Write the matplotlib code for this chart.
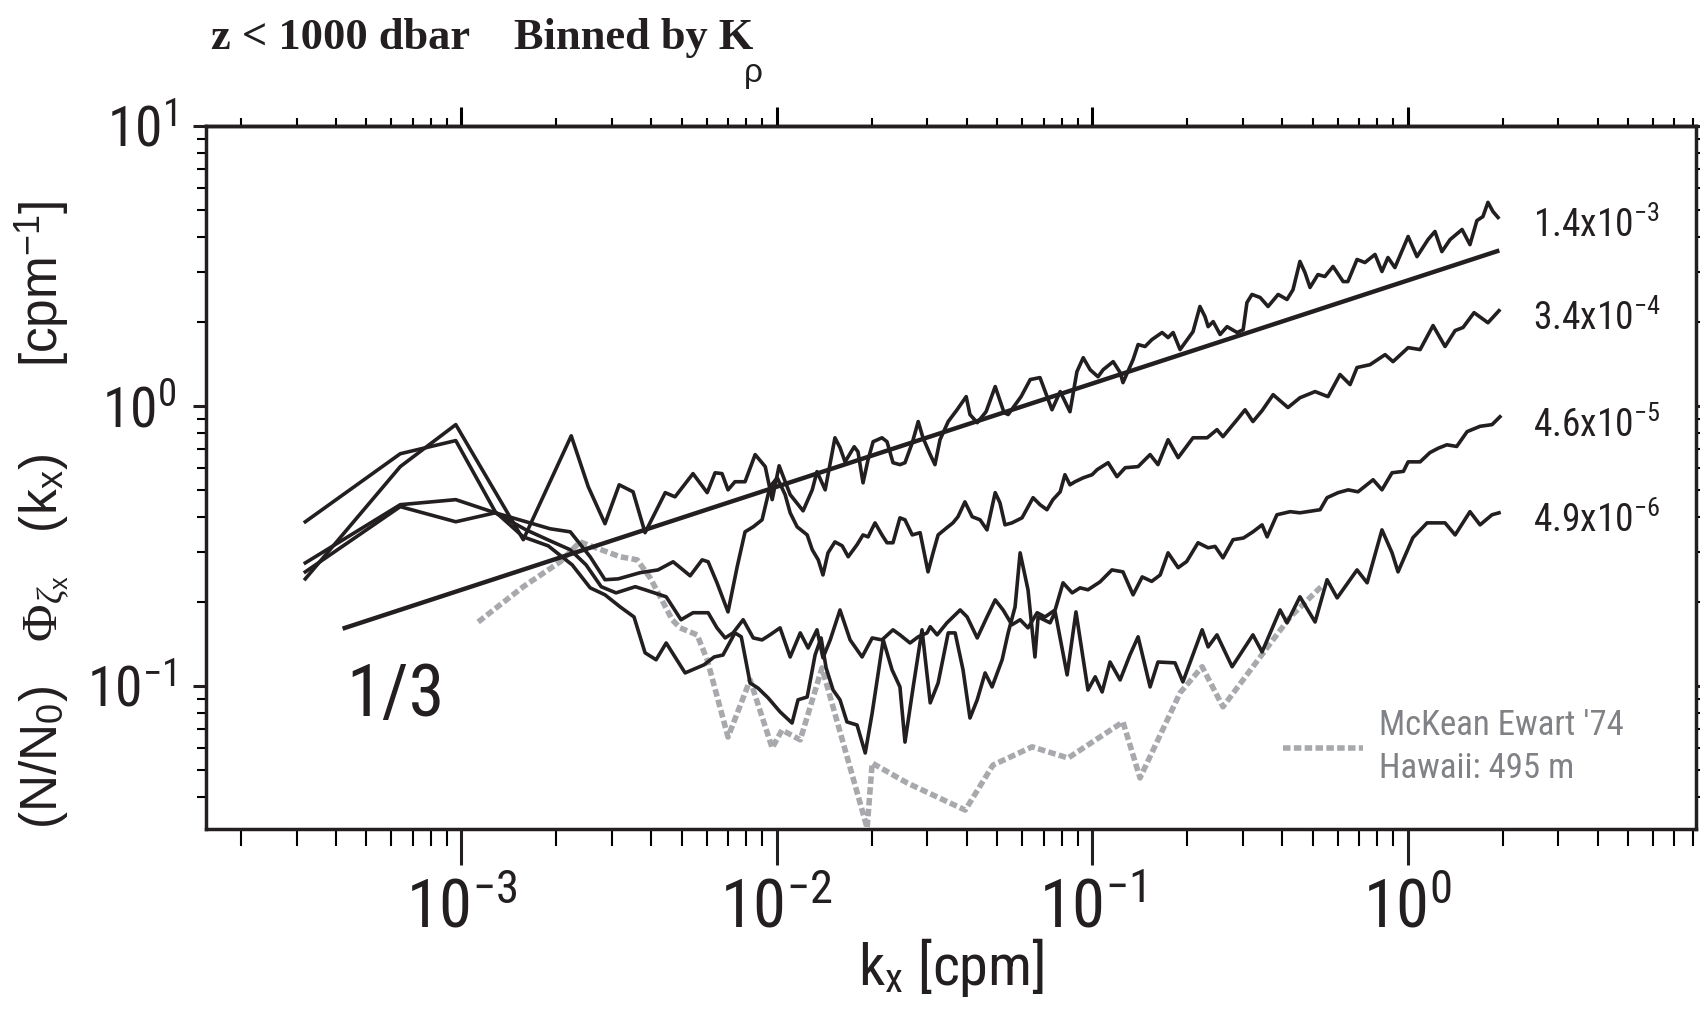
import numpy as np
import matplotlib
matplotlib.use("Agg")
import matplotlib.pyplot as plt
from matplotlib import font_manager
from matplotlib.font_manager import FontProperties
from matplotlib.ticker import NullFormatter


def pick_narrow():
    # a condensed sans close to the compressed Helvetica of the original
    entries = [e for e in font_manager.fontManager.ttflist
               if e.style == "normal" and str(e.weight) in ("400", "normal", "regular")]
    prefs = ["Liberation Sans Narrow", "Arial Narrow", "Roboto Condensed",
             "Open Sans Condensed", "Noto Sans", "Open Sans", "DejaVu Sans"]
    for p in prefs:
        for e in entries:
            if e.name == p and ("condensed" in e.stretch or "Narrow" in e.name):
                return e
    for e in entries:
        if "condensed" in e.stretch and "Mono" not in e.name and "Serif" not in e.name:
            return e
    return None


narrow_entry = pick_narrow()
if narrow_entry is not None:
    NARROW_FP = dict(fname=narrow_entry.fname)
    plt.rcParams["font.family"] = narrow_entry.name
    plt.rcParams["font.stretch"] = narrow_entry.stretch
else:
    NARROW_FP = dict(family="Liberation Sans")
    plt.rcParams["font.family"] = "Liberation Sans"

SANS = "Liberation Sans"
SERIF = "Liberation Serif"
plt.rcParams["mathtext.fontset"] = "custom"
plt.rcParams["mathtext.rm"] = SERIF
plt.rcParams["mathtext.it"] = SERIF + ":italic"
plt.rcParams["mathtext.bf"] = SERIF + ":bold"
plt.rcParams["axes.unicode_minus"] = False


def narrow(size):
    return FontProperties(size=size, **NARROW_FP)


INK = "#231f20"
GRAY = "#a7a9ac"
GRAY_TEXT = "#808285"

# spectra (log10 k [cpm], log10 of (N/N0) Phi)
logk_a = [-3.495, -3.194, -3.018, -2.804, -2.652, -2.598, -2.545, -2.500, -2.456, -2.418,
          -2.354, -2.323, -2.266, -2.221, -2.196, -2.174, -2.155, -2.133, -2.101, -2.069,
          -2.037, -2.015, -1.993, -1.958, -1.917, -1.888, -1.873, -1.847, -1.816, -1.800,
          -1.784, -1.755, -1.743, -1.727, -1.711, -1.695, -1.667, -1.651, -1.632, -1.610,
          -1.594, -1.571, -1.552, -1.537, -1.514, -1.499, -1.483, -1.457, -1.429, -1.400,
          -1.388, -1.365, -1.337, -1.308, -1.280, -1.267, -1.226, -1.197, -1.166, -1.128,
          -1.102, -1.071, -1.049, -1.029, -1.007, -0.982, -0.966, -0.934, -0.912, -0.903,
          -0.871, -0.855, -0.833, -0.811, -0.779, -0.760, -0.744, -0.722, -0.706, -0.681,
          -0.659, -0.643, -0.633, -0.617, -0.595, -0.573, -0.541, -0.522, -0.510, -0.494,
          -0.468, -0.443, -0.411, -0.383, -0.364, -0.342, -0.326, -0.310, -0.285, -0.263,
          -0.237, -0.205, -0.190, -0.161, -0.136, -0.104, -0.082, -0.063, -0.041, 0.001,
          0.029, 0.064, 0.086, 0.108, 0.134, 0.172, 0.197, 0.219, 0.238, 0.254,
          0.270, 0.286]
logphi_a = [-0.618, -0.217, -0.067, -0.478, -0.107, -0.289, -0.421, -0.282, -0.307, -0.453,
            -0.310, -0.325, -0.242, -0.310, -0.239, -0.242, -0.300, -0.271, -0.271, -0.174,
            -0.217, -0.335, -0.214, -0.317, -0.375, -0.300, -0.235, -0.300, -0.114, -0.149,
            -0.200, -0.146, -0.164, -0.275, -0.192, -0.128, -0.114, -0.128, -0.203, -0.210,
            -0.203, -0.132, -0.056, -0.114, -0.174, -0.210, -0.121, -0.056, -0.014, 0.033,
            -0.031, -0.060, -0.021, 0.069, -0.024, -0.031, 0.033, 0.094, 0.101, -0.014,
            0.051, -0.021, 0.122, 0.172, 0.129, 0.104, 0.129, 0.158, 0.119, 0.083,
            0.165, 0.219, 0.212, 0.237, 0.262, 0.244, 0.262, 0.201, 0.226, 0.265,
            0.355, 0.319, 0.283, 0.301, 0.255, 0.283, 0.262, 0.272, 0.369, 0.398,
            0.387, 0.355, 0.398, 0.380, 0.415, 0.516, 0.476, 0.423, 0.469, 0.462,
            0.498, 0.444, 0.444, 0.523, 0.512, 0.541, 0.480, 0.530, 0.494, 0.605,
            0.533, 0.594, 0.623, 0.551, 0.594, 0.630, 0.576, 0.662, 0.676, 0.727,
            0.694, 0.673]

logk_b = [-3.495, -3.194, -3.018, -2.893, -2.795, -2.719, -2.655, -2.592, -2.545, -2.503,
          -2.434, -2.377, -2.329, -2.275, -2.237, -2.218, -2.190, -2.155, -2.126, -2.101,
          -2.075, -2.047, -2.022, -1.999, -1.974, -1.958, -1.936, -1.904, -1.888, -1.869,
          -1.854, -1.838, -1.816, -1.793, -1.774, -1.746, -1.727, -1.711, -1.689, -1.667,
          -1.651, -1.632, -1.610, -1.594, -1.571, -1.546, -1.521, -1.505, -1.489, -1.461,
          -1.442, -1.426, -1.404, -1.381, -1.356, -1.334, -1.308, -1.293, -1.277, -1.255,
          -1.223, -1.188, -1.166, -1.144, -1.125, -1.102, -1.087, -1.071, -1.055, -1.029,
          -1.001, -0.985, -0.950, -0.922, -0.896, -0.855, -0.817, -0.792, -0.760, -0.728,
          -0.681, -0.636, -0.605, -0.586, -0.541, -0.516, -0.491, -0.462, -0.427, -0.380,
          -0.342, -0.294, -0.253, -0.215, -0.183, -0.161, -0.120, -0.072, -0.047, 0.001,
          0.039, 0.080, 0.118, 0.150, 0.175, 0.210, 0.254, 0.289]
logphi_b = [-0.561, -0.353, -0.335, -0.382, -0.414, -0.439, -0.450, -0.539, -0.621, -0.618,
            -0.596, -0.586, -0.557, -0.607, -0.550, -0.557, -0.632, -0.736, -0.575, -0.450,
            -0.432, -0.407, -0.289, -0.257, -0.317, -0.382, -0.432, -0.461, -0.514, -0.550,
            -0.604, -0.525, -0.486, -0.500, -0.539, -0.496, -0.461, -0.468, -0.418, -0.461,
            -0.489, -0.489, -0.400, -0.407, -0.461, -0.453, -0.593, -0.525, -0.461, -0.435,
            -0.418, -0.396, -0.343, -0.396, -0.407, -0.443, -0.310, -0.346, -0.425, -0.418,
            -0.400, -0.328, -0.353, -0.371, -0.335, -0.307, -0.246, -0.282, -0.271, -0.257,
            -0.246, -0.228, -0.203, -0.253, -0.221, -0.217, -0.174, -0.210, -0.121, -0.185,
            -0.114, -0.114, -0.085, -0.110, -0.049, -0.014, -0.056, -0.017, 0.040, -0.006,
            0.029, 0.051, 0.033, 0.112, 0.076, 0.137, 0.147, 0.183, 0.158, 0.208,
            0.201, 0.287, 0.212, 0.269, 0.280, 0.333, 0.297, 0.340]

logk_c = [-3.495, -3.194, -3.018, -2.893, -2.795, -2.719, -2.655, -2.605, -2.557, -2.510,
          -2.449, -2.418, -2.351, -2.304, -2.266, -2.218, -2.190, -2.164, -2.139, -2.107,
          -2.075, -2.047, -2.022, -1.990, -1.958, -1.926, -1.901, -1.873, -1.854, -1.831,
          -1.800, -1.768, -1.730, -1.698, -1.667, -1.632, -1.610, -1.578, -1.552, -1.524,
          -1.514, -1.492, -1.461, -1.419, -1.397, -1.365, -1.334, -1.308, -1.283, -1.255,
          -1.229, -1.204, -1.175, -1.150, -1.118, -1.093, -1.064, -1.039, -1.014, -0.976,
          -0.938, -0.903, -0.871, -0.842, -0.812, -0.785, -0.760, -0.728, -0.701, -0.665,
          -0.633, -0.611, -0.586, -0.554, -0.521, -0.491, -0.462, -0.446, -0.415, -0.373,
          -0.342, -0.278, -0.256, -0.221, -0.189, -0.158, -0.110, -0.082, -0.050, -0.014,
          0.001, 0.039, 0.070, 0.097, 0.124, 0.155, 0.188, 0.229, 0.267, 0.292]
logphi_c = [-0.593, -0.360, -0.414, -0.382, -0.443, -0.482, -0.514, -0.568, -0.646, -0.668,
            -0.646, -0.657, -0.682, -0.764, -0.739, -0.739, -0.793, -0.829, -0.811, -0.764,
            -0.829, -0.836, -0.818, -0.793, -0.897, -0.811, -0.865, -0.800, -0.900, -0.836,
            -0.729, -0.836, -0.897, -0.829, -0.836, -0.800, -0.818, -0.847, -0.825, -0.811,
            -0.789, -0.818, -0.775, -0.729, -0.754, -0.829, -0.754, -0.693, -0.729, -0.782,
            -0.764, -0.793, -0.739, -0.754, -0.729, -0.632, -0.668, -0.650, -0.657, -0.629,
            -0.586, -0.593, -0.675, -0.611, -0.627, -0.604, -0.525, -0.578, -0.556, -0.489,
            -0.507, -0.502, -0.543, -0.478, -0.472, -0.450, -0.425, -0.468, -0.389, -0.378,
            -0.382, -0.371, -0.328, -0.310, -0.300, -0.307, -0.264, -0.300, -0.239, -0.234,
            -0.200, -0.200, -0.167, -0.151, -0.139, -0.145, -0.092, -0.073, -0.067, -0.039]

logk_d = [-3.495, -3.194, -3.018, -2.893, -2.804, -2.725, -2.649, -2.592, -2.545, -2.497,
          -2.453, -2.418, -2.383, -2.351, -2.291, -2.231, -2.199, -2.171, -2.133, -2.113,
          -2.085, -2.060, -2.028, -1.990, -1.952, -1.933, -1.904, -1.879, -1.860, -1.844,
          -1.822, -1.800, -1.778, -1.746, -1.720, -1.698, -1.663, -1.635, -1.610, -1.594,
          -1.568, -1.540, -1.514, -1.489, -1.457, -1.435, -1.410, -1.388, -1.365, -1.340,
          -1.318, -1.286, -1.267, -1.245, -1.229, -1.204, -1.182, -1.172, -1.134, -1.118,
          -1.080, -1.052, -1.014, -0.991, -0.969, -0.944, -0.912, -0.881, -0.855, -0.817,
          -0.792, -0.738, -0.713, -0.652, -0.633, -0.605, -0.557, -0.491, -0.462, -0.405,
          -0.383, -0.342, -0.294, -0.256, -0.224, -0.161, -0.129, -0.082, -0.050, -0.031,
          0.016, 0.061, 0.118, 0.150, 0.197, 0.229, 0.267, 0.289]
logphi_d = [-0.414, -0.171, -0.124, -0.378, -0.468, -0.500, -0.568, -0.650, -0.675, -0.718,
            -0.754, -0.882, -0.907, -0.847, -0.954, -0.925, -0.897, -0.890, -0.811, -0.825,
            -0.990, -1.008, -1.043, -1.093, -1.133, -1.050, -1.040, -0.890, -0.829, -0.936,
            -1.015, -1.050, -1.129, -1.140, -1.240, -1.097, -0.836, -0.943, -1.004, -1.201,
            -1.004, -0.800, -1.061, -0.990, -0.811, -0.811, -0.943, -1.115, -1.050, -0.954,
            -1.004, -0.907, -0.811, -0.718, -0.525, -0.657, -0.897, -0.754, -0.775, -0.736,
            -0.961, -0.736, -1.015, -0.968, -1.022, -0.915, -0.979, -0.890, -0.825, -1.004,
            -0.915, -0.918, -0.986, -0.800, -0.861, -0.818, -0.932, -0.818, -0.879, -0.729,
            -0.775, -0.682, -0.772, -0.621, -0.686, -0.586, -0.632, -0.443, -0.525, -0.593,
            -0.471, -0.418, -0.418, -0.461, -0.378, -0.425, -0.389, -0.382]

# McKean & Ewart (1974) reference spectrum
logk_gray = [-2.947, -2.804, -2.687, -2.624, -2.497, -2.443, -2.402, -2.370, -2.332, -2.307,
             -2.253, -2.221, -2.155, -2.085, -2.015, -1.984, -1.926, -1.857, -1.714, -1.698,
             -1.587, -1.403, -1.315, -1.191, -1.077, -0.903, -0.849, -0.722, -0.652, -0.586,
             -0.468, -0.373, -0.272]
logphi_gray = [-0.772, -0.646, -0.557, -0.486, -0.539, -0.550, -0.614, -0.682, -0.764, -0.793,
               -0.818, -0.907, -1.183, -0.979, -1.222, -1.158, -1.193, -0.936, -1.508, -1.276,
               -1.347, -1.444, -1.283, -1.218, -1.258, -1.129, -1.329, -1.025, -0.932, -1.075,
               -0.897, -0.754, -0.643]

# 1/3 slope reference line end points
slope_k = [4.2e-4, 1.95]
slope_phi = [0.16, 3.59]

kappa_labels = ["1.4x10^{-3}", "3.4x10^{-4}", "4.6x10^{-5}", "4.9x10^{-6}"]
curves = [(logk_a, logphi_a), (logk_b, logphi_b), (logk_c, logphi_c), (logk_d, logphi_d)]

fig = plt.figure(figsize=(17, 10.28), dpi=100)
ax = fig.add_axes([0.1212, 0.1936, 0.8765, 0.6839])
ax.set_xscale("log")
ax.set_yscale("log")
ax.set_xlim(1.55e-4, 8.2)
ax.set_ylim(0.0308, 10.0)

gray_line, = ax.plot(10 ** np.array(logk_gray), 10 ** np.array(logphi_gray),
                     color=GRAY, lw=4.0, ls=(0, (1.35, 0.6)), dash_capstyle="butt",
                     zorder=1, label="McKean Ewart '74\nHawaii: 495 m")

for lk, lp in curves:
    ax.plot(10 ** np.array(lk), 10 ** np.array(lp), color=INK, lw=2.6, zorder=2)

ax.plot(slope_k, slope_phi, color=INK, lw=3.2, solid_capstyle="butt", zorder=3)
ax.text(6.2e-4, 0.078, "1/3", fontproperties=narrow(52), ha="center", va="baseline", color=INK)

# curve labels (diapycnal diffusivity bins)
label_y = [0.8425, 0.7098, 0.5580, 0.4229]
for txt, yy in zip(kappa_labels, label_y):
    ax.text(0.8906, yy, r"$\mathregular{" + txt + "}$", transform=ax.transAxes,
            fontproperties=narrow(27), va="baseline", ha="left", color=INK)

leg = ax.legend(handles=[gray_line], loc="center left", bbox_to_anchor=(0.7228, 0.1166),
                frameon=False, handlelength=2.3, handletextpad=0.45, borderpad=0,
                borderaxespad=0, prop=narrow(25))
for t in leg.get_texts():
    t.set_color(GRAY_TEXT)
    t.set_linespacing(1.4)

# axes styling
for s in ax.spines.values():
    s.set_linewidth(2.5)
    s.set_color(INK)

ax.tick_params(axis="x", which="major", direction="out", length=26, width=2.2,
               labelsize=48, pad=9, top=False, colors=INK)
ax.tick_params(axis="x", which="minor", direction="out", length=12, width=1.5, top=False)
ax.tick_params(axis="y", which="major", direction="out", length=9.5, width=2.2,
               labelsize=40, pad=12, right=True, colors=INK)
ax.tick_params(axis="y", which="minor", direction="out", length=6.5, width=1.5, right=True)
ax.xaxis.set_minor_formatter(NullFormatter())
ax.yaxis.set_minor_formatter(NullFormatter())

top = ax.secondary_xaxis("top")
top.tick_params(which="major", direction="out", length=14, width=2.2, labeltop=False)
top.tick_params(which="minor", direction="out", length=6, width=1.5)
top.spines["top"].set_linewidth(2.5)

ax.set_xlabel(r"k$_\mathregular{x}$ [cpm]", fontproperties=narrow(42), color=INK)
ax.xaxis.set_label_coords(0.5, -0.222)
ax.xaxis.label.set_verticalalignment("baseline")

ax.set_ylabel(r"(N/N$_\mathregular{0}$)   $\Phi_{\zeta_\mathregular{x}}$   (k$_\mathregular{x}$)      [cpm$^\mathregular{-1}$]",
              size=37, family=SANS, color=INK)
ax.yaxis.set_label_coords(-0.1094, 0.4467)
ax.yaxis.label.set_verticalalignment("center")

title = fig.text(211 / 1700, 1 - 49 / 1028, "z < 1000 dbar    Binned by K",
                 family=SERIF, weight="bold", size=32, ha="left", va="baseline", color=INK)
fig.canvas.draw()
bb = title.get_window_extent(fig.canvas.get_renderer())
fig.text(bb.x1 / fig.bbox.width, 1 - 58 / 1028, "ρ", family=SANS, size=24,
         ha="center", va="top", color=INK)

fig.savefig("out.png", dpi=100)
